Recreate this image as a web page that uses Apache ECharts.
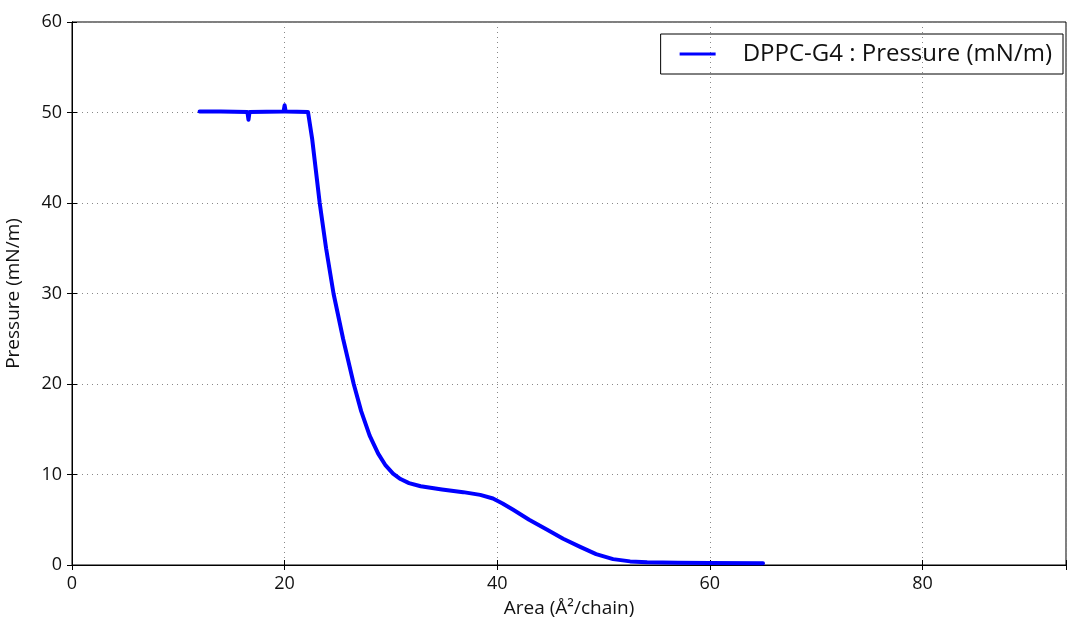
<!DOCTYPE html>
<html>
<head>
<meta charset="utf-8">
<script src="https://cdn.jsdelivr.net/npm/echarts@6/dist/echarts.min.js"></script>
<style>
  html, body { margin: 0; padding: 0; background: #fff; }
  #chart { width: 1067px; height: 626px; }
</style>
</head>
<body>
<div id="chart"></div>
<script>
var seriesName = 'DPPC-G4 : Pressure (mN/m)';

// area per chain (Å²/chain)
var area = [12.0, 14.0, 16.5, 16.6, 16.7, 19.9, 20.0, 20.1, 22.2, 22.6, 23.3, 23.9, 24.6, 25.5,
            26.5, 27.2, 28.0, 28.8, 29.5, 30.2, 30.9, 31.7, 32.8, 34.8, 36.8, 38.4, 39.6, 40.5,
            41.5, 43.0, 44.7, 46.2, 47.8, 49.3, 50.9, 52.5, 54.1, 57.0, 60.0, 65.0];
// surface pressure (mN/m)
var pressure = [50.1, 50.1, 50.05, 49.2, 50.05, 50.1, 50.8, 50.1, 50.05, 47.0, 40.0, 35.0, 30.0, 25.0,
                20.0, 17.0, 14.3, 12.3, 11.0, 10.1, 9.5, 9.05, 8.7, 8.35, 8.05, 7.75, 7.35, 6.8,
                6.1, 5.0, 3.9, 2.9, 2.0, 1.2, 0.65, 0.4, 0.3, 0.25, 0.22, 0.2];

var xTicks = [0, 20, 40, 60, 80];
var yTicks = [0, 10, 20, 30, 40, 50, 60];

var points = [];
for (var i = 0; i < area.length; i++) {
    points.push([area[i], pressure[i]]);
}

var font = '"Open Sans", "Noto Sans", sans-serif';
var myChart = echarts.init(document.getElementById('chart'));

var gridLine = { show: true, lineStyle: { color: '#888', type: [1, 4], width: 1 } };

option = {
    animation: false,
    backgroundColor: '#fff',
    grid: {
        left: 72, right: 1, top: 22, bottom: 61,
        outerBoundsMode: 'none',
        show: true, borderColor: '#000', borderWidth: 1
    },
    legend: {
        data: [seriesName],
        right: 4, top: 34,
        borderColor: '#000', borderWidth: 1, borderRadius: 0,
        padding: [8, 11, 8, 19],
        icon: 'rect', itemWidth: 36, itemHeight: 3,
        textStyle: { fontFamily: font, fontSize: 24, color: '#111', padding: [0, 0, 0, 22] }
    },
    xAxis: [{
        type: 'value', min: 0, max: 93.5, interval: 20,
        name: 'Area (Å²/chain)', nameLocation: 'middle', nameGap: 34,
        nameTextStyle: { fontFamily: font, fontSize: 19, color: '#111' },
        axisLine: { show: true, lineStyle: { color: '#000' } },
        axisTick: { show: true, inside: true, length: 5, lineStyle: { color: '#000' } },
        axisLabel: {
            fontFamily: font, fontSize: 18, color: '#111', margin: 10,
            formatter: function (v) { return xTicks.indexOf(v) >= 0 ? String(v) : ''; }
        },
        splitLine: gridLine
    }, {
        type: 'value', min: 0, max: 93.5, interval: 20, position: 'top',
        axisLine: { show: true, lineStyle: { color: '#000' } },
        axisTick: { show: true, inside: true, length: 5, lineStyle: { color: '#000' } },
        axisLabel: { show: false },
        splitLine: { show: false }
    }],
    yAxis: [{
        type: 'value', min: 0, max: 60, interval: 10,
        name: 'Pressure (mN/m)', nameLocation: 'middle', nameGap: 49,
        nameTextStyle: { fontFamily: font, fontSize: 19, color: '#111' },
        axisLine: { show: true, lineStyle: { color: '#000' } },
        axisTick: { show: true, inside: true, length: 5, lineStyle: { color: '#000' } },
        axisLabel: {
            fontFamily: font, fontSize: 18, color: '#111', margin: 10,
            formatter: function (v) { return yTicks.indexOf(v) >= 0 ? String(v) : ''; }
        },
        splitLine: gridLine
    }, {
        type: 'value', min: 0, max: 60, interval: 10, position: 'right',
        axisLine: { show: true, lineStyle: { color: '#000' } },
        axisTick: { show: true, inside: true, length: 5, lineStyle: { color: '#000' } },
        axisLabel: { show: false },
        splitLine: { show: false }
    }],
    series: [{
        name: seriesName,
        type: 'line',
        color: '#0000ff',
        symbol: 'none',
        lineStyle: { width: 4, color: '#0000ff', cap: 'round', join: 'round' },
        data: points
    }]
};

myChart.setOption(option, true);
</script>
</body>
</html>
